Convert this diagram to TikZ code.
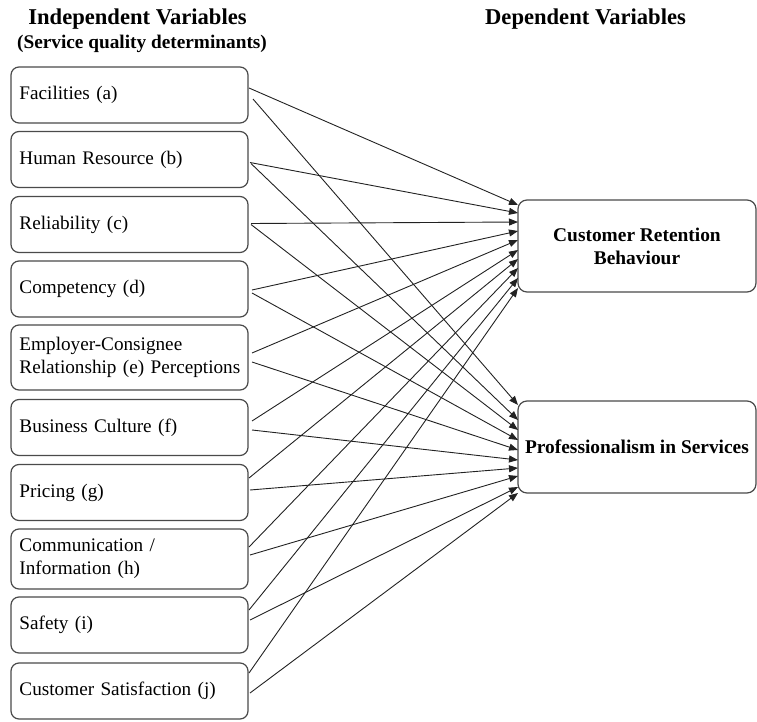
\documentclass[tikz,border=0pt]{standalone}
\usepackage{fontspec}
\setmainfont{Liberation Serif}
\usepackage{xcolor}
\usepackage{tikz}
\usetikzlibrary{arrows.meta}

\definecolor{boxgray}{HTML}{4A4A4A}
\definecolor{linegray}{HTML}{222222}

\begin{document}
\begin{tikzpicture}[x=1pt, y=-1pt,
    ivbox/.style={draw=boxgray, line width=1.2pt, rounded corners=8pt, outer sep=0pt,
        minimum width=237pt, minimum height=56pt, text width=220pt, inner xsep=8.5pt,
        align=left, font=\fontsize{19.2}{23}\selectfont},
    dvbox/.style={draw=boxgray, line width=1.2pt, rounded corners=9pt, outer sep=0pt,
        minimum width=238pt, minimum height=92pt, align=center,
        font=\fontsize{19.4}{23}\selectfont\bfseries},
    heading/.style={anchor=base, font=\fontsize{22.6}{26}\selectfont\bfseries},
    arr/.style={draw=linegray, line width=0.9pt, -{Triangle[length=9pt,width=7pt]}}]
        \useasboundingbox (0,0) rectangle (757,722);

        \node[heading] at (137.5, 25) (hind) {Independent Variables};
        \node[anchor=base, font=\fontsize{19.3}{23}\selectfont\bfseries] at (142, 49) (hsub) {(Service quality determinants)};
        \node[heading] at (585.5, 25) (hdep) {Dependent Variables};

        \node[ivbox] at (129.5, 95) (a) {Facilities (a)};
        \node[ivbox] at (129.5, 159.5) (b) {Human Resource (b)};
        \node[ivbox] at (129.5, 224.5) (c) {Reliability (c)};
        \node[ivbox] at (129.5, 289) (d) {Competency (d)};
        \node[ivbox, minimum height=65pt] at (129.5, 357.5) (e) {Employer-Consignee\\\mbox{Relationship (e) Perceptions}};
        \node[ivbox] at (129.5, 427.5) (f) {Business Culture (f)};
        \node[ivbox] at (129.5, 492.5) (g) {Pricing (g)};
        \node[ivbox, minimum height=60pt] at (129.5, 559) (h) {Communication /\\Information (h)};
        \node[ivbox] at (129.5, 625) (i) {Safety (i)};
        \node[ivbox] at (129.5, 691) (j) {Customer Satisfaction (j)};

        \node[dvbox] at (637, 246) (cr) {Customer Retention\\Behaviour};
        \node[dvbox] at (637, 447) (ps) {Professionalism in Services};

        % to customer retention
        \draw[arr] ([xshift=1pt, yshift=7pt]a.east) -- ([yshift=41pt]cr.west);
        \draw[arr] ([xshift=2pt, yshift=-3pt]b.east) -- ([yshift=33pt]cr.west);
        \draw[arr] ([xshift=3pt, yshift=1pt]c.east) -- ([yshift=24pt]cr.west);
        \draw[arr] ([xshift=4pt, yshift=-1pt]d.east) -- ([yshift=15pt]cr.west);
        \draw[arr] ([xshift=4pt, yshift=4.5pt]e.east) -- ([yshift=6pt]cr.west);
        \draw[arr] ([xshift=4pt, yshift=6.5pt]f.east) -- ([yshift=-4pt]cr.west);
        \draw[arr] ([xshift=1pt, yshift=14.5pt]g.east) -- ([yshift=-13pt]cr.west);
        \draw[arr] ([xshift=1pt, yshift=12pt]h.east) -- ([yshift=-22pt]cr.west);
        \draw[arr] ([xshift=1pt, yshift=15pt]i.east) -- ([yshift=-32pt]cr.west);
        \draw[arr] ([xshift=1pt, yshift=18pt]j.east) -- ([yshift=-42pt]cr.west);

        % to professionalism
        \draw[arr] ([xshift=5pt, yshift=-4pt]a.east) -- ([yshift=42pt]ps.west);
        \draw[arr] ([xshift=3pt, yshift=-4pt]b.east) -- ([yshift=27pt]ps.west);
        \draw[arr] ([xshift=3pt, yshift=0pt]c.east) -- ([yshift=17pt]ps.west);
        \draw[arr] ([xshift=4pt, yshift=-4pt]d.east) -- ([yshift=7pt]ps.west);
        \draw[arr] ([xshift=4pt, yshift=-4.5pt]e.east) -- ([yshift=-3pt]ps.west);
        \draw[arr] ([xshift=4pt, yshift=-2.5pt]f.east) -- ([yshift=-13pt]ps.west);
        \draw[arr] ([xshift=2pt, yshift=2.5pt]g.east) -- ([yshift=-21pt]ps.west);
        \draw[arr] ([xshift=2pt, yshift=4pt]h.east) -- ([yshift=-29pt]ps.west);
        \draw[arr] ([xshift=2pt, yshift=5pt]i.east) -- ([yshift=-40pt]ps.west);
        \draw[arr] ([xshift=2pt, yshift=-2pt]j.east) -- ([yshift=-46pt]ps.west);
    \end{tikzpicture}
\end{document}
